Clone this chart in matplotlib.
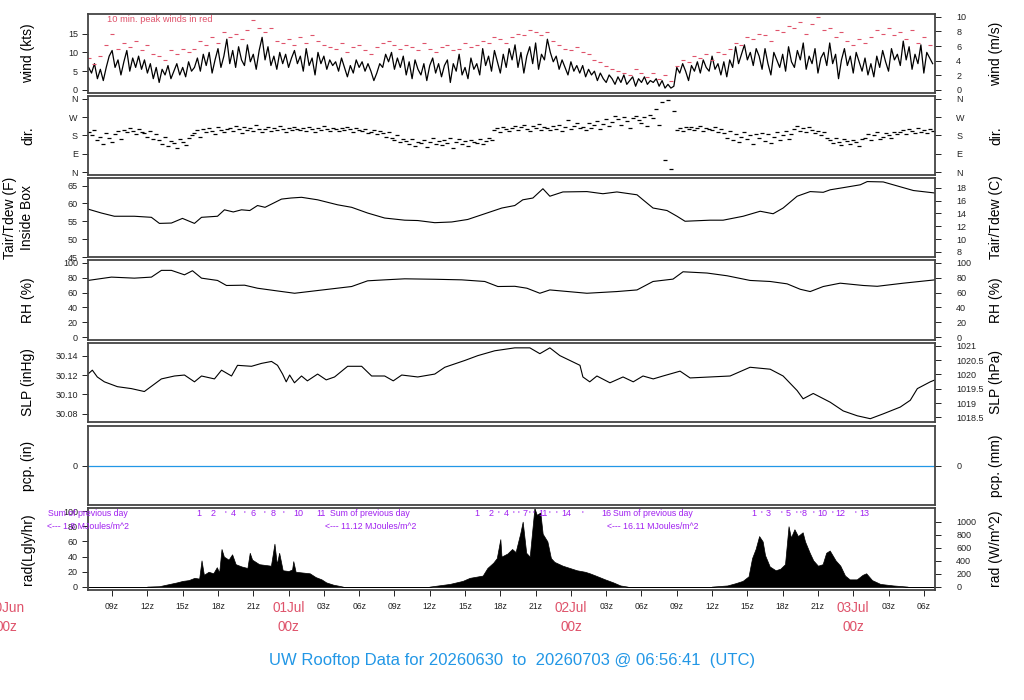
import numpy as np
import matplotlib
matplotlib.use("Agg")
import matplotlib.pyplot as plt
import matplotlib.transforms as mtransforms

plt.rcParams['font.family'] = ['Liberation Sans', 'DejaVu Sans']

RED = '#DF536B'
BLUE = '#2297E6'
PURPLE = '#A020F0'

# time axis in hours since 2026-06-30 00z
T_START = 6.95
T_END = 78.95

# sustained wind (kts), one reading every 15 min from 07z 30Jun
wind_t0 = 7.0
wind_kts = [
    6.0, 4.5, 7.0, 3.0, 5.5, 2.5, 6.0, 9.0, 10.5, 6.0, 8.0, 4.0,
    7.5, 10.5, 5.0, 8.5, 6.0, 9.0, 5.5, 8.0, 4.5, 7.0, 3.0, 6.0,
    2.0, 5.5, 4.0, 6.5, 3.0, 5.0, 7.0, 4.0, 6.0, 3.5, 7.5, 5.0,
    6.0, 8.5, 5.0, 9.5, 6.5, 10.0, 4.5, 8.0, 11.0, 6.0, 9.0, 13.5,
    7.0, 10.5, 6.0, 11.5, 8.0, 6.5, 12.0, 7.5, 9.5, 5.5, 10.5, 14.0,
    8.0, 11.5, 6.5, 9.0, 5.5, 10.0, 7.0, 9.5, 6.0, 8.5, 10.5, 7.0,
    9.0, 5.0, 11.0, 6.5, 8.5, 4.0, 10.0, 7.0, 9.0, 5.5, 8.0, 6.5,
    7.5, 5.0, 8.5, 6.0, 3.5, 6.5, 4.5, 8.0, 6.0, 7.5, 5.0, 7.0,
    5.0, 2.5, 4.5, 7.0, 6.0, 9.5, 7.5, 10.0, 5.5, 8.5, 6.0, 9.0,
    4.0, 7.5, 3.0, 8.0, 5.5, 4.0, 7.0, 2.5, 6.5, 8.5, 4.5, 7.0,
    3.5, 6.5, 8.0, 2.0, 7.0, 5.0, 9.5, 4.0, 6.0, 3.0, 8.5, 5.5,
    7.0, 4.0, 11.0, 6.5, 9.0, 5.0, 10.5, 7.5, 4.5, 9.5, 6.0, 11.0,
    8.0, 12.0, 6.0, 10.0, 4.5, 9.0, 11.5, 7.0, 12.5, 5.5, 9.5, 8.0,
    13.5, 10.0, 7.5, 9.0, 5.5, 8.0, 6.0, 4.0, 7.5, 5.0, 6.5, 4.5,
    6.5, 3.5, 5.5, 4.0, 5.0, 2.5, 4.5, 3.0, 2.0, 4.0, 3.0, 1.5,
    3.5, 2.0, 4.0, 1.5, 2.5, 3.5, 1.0, 3.0, 2.0, 3.5, 1.5, 2.5,
    2.0, 3.0, 1.0, 2.5, 0.5, 1.5, 0.5, 1.0, 6.0, 4.5, 7.0, 5.0,
    2.5, 6.5, 5.0, 7.5, 4.5, 8.0, 6.0, 5.0, 9.0, 5.5, 7.0, 4.0,
    7.5, 3.5, 8.0, 6.0, 11.5, 7.0, 9.5, 12.0, 8.0, 10.0, 6.5, 11.0,
    9.0, 5.5, 11.0, 7.0, 4.0, 10.0, 8.0, 6.0, 9.5, 5.0, 11.5, 7.5,
    6.0, 10.5, 8.0, 12.5, 5.5, 9.0, 7.0, 11.0, 4.5, 8.5, 10.0, 6.5,
    12.5, 7.0, 9.5, 3.0, 8.0, 11.0, 6.5, 9.0, 4.5, 10.0, 7.5, 5.0,
    8.5, 4.0, 7.0, 3.5, 9.0, 6.0, 10.5, 7.5, 5.0, 11.0, 8.0, 9.5,
    6.5, 13.0, 8.0, 11.5, 5.5, 9.5, 7.0, 12.0, 4.5, 10.0, 8.5, 7.0,
]

# 10 min peak winds (kts), shown every 30 min
gust_t0 = 7.0
gust_kts = [
    8.5, 7.0, 9.0, 12.0, 15.0, 11.0,
    12.5, 11.5, 13.0, 10.5, 12.0, 9.5,
    9.0, 8.0, 10.5, 9.5, 11.0, 10.0,
    11.0, 13.0, 12.0, 14.0, 12.5, 15.5,
    14.0, 15.0, 13.5, 16.0, 18.5, 16.5,
    15.5, 16.5, 13.0, 12.5, 13.5, 12.0,
    14.0, 12.5, 14.5, 13.0, 12.0, 11.5,
    11.0, 12.5, 10.0, 11.5, 12.0, 10.5,
    9.5, 11.5, 12.5, 13.0, 12.0, 11.0,
    12.0, 11.5, 10.5, 12.5, 11.0, 10.0,
    11.5, 12.0, 10.5, 11.0, 12.5, 11.5,
    12.0, 13.0, 12.5, 14.0, 13.5, 12.5,
    14.0, 15.0, 14.5, 16.0, 15.5, 14.5,
    15.5, 13.0, 12.0, 11.0, 10.5, 11.5,
    10.0, 9.5, 8.0, 7.5, 6.5, 5.5,
    5.0, 4.5, 4.0, 5.5, 4.5, 3.5,
    4.5, 3.0, 4.0, 2.5, 6.5, 8.0,
    7.5, 9.0, 8.5, 9.5, 8.0, 10.0,
    9.5, 11.0, 12.5, 12.0, 14.0, 13.5,
    15.0, 14.5, 13.0, 16.0, 15.5, 17.0,
    16.5, 18.0, 15.0, 17.5, 19.5, 16.0,
    16.5, 14.0, 15.5, 13.0, 12.0, 13.5,
    12.5, 14.0, 16.0, 15.0, 16.5, 14.5,
    15.5, 13.5, 16.0, 12.5, 14.0, 12.0,
]

# wind direction (deg), same 15 min clock as wind
dir_deg = [
    195, 180, 205, 160, 175, 140, 190, 170, 150, 185, 200, 165,
    205, 195, 215, 200, 185, 210, 195, 190, 175, 200, 165, 185,
    160, 140, 175, 130, 155, 145, 120, 165, 150, 135, 170, 180,
    190, 205, 175, 210, 195, 215, 200, 185, 220, 205, 195, 210,
    215, 200, 225, 210, 190, 220, 205, 215, 200, 230, 210, 195,
    210, 220, 200, 215, 205, 225, 210, 195, 215, 205, 220, 210,
    205, 215, 200, 220, 210, 195, 215, 205, 225, 210, 200, 215,
    210, 200, 215, 205, 220, 210, 195, 215, 205, 200, 210, 190,
    195, 205, 185, 200, 190, 175, 195, 170, 160, 180, 150, 165,
    155, 140, 165, 130, 150, 145, 160, 125, 150, 170, 140, 155,
    135, 160, 145, 170, 120, 150, 165, 140, 155, 130, 160, 150,
    145, 165, 140, 155, 170, 160, 205, 215, 195, 220, 210, 200,
    215, 225, 205, 220, 230, 210, 200, 225, 215, 235, 205, 220,
    215, 205, 225, 210, 230, 200, 220, 255, 210, 225, 240, 215,
    220, 205, 240, 215, 230, 250, 210, 235, 260, 225, 245, 275,
    260, 230, 270, 250, 215, 265, 275, 255, 240, 270, 225, 280,
    265, 310, 230, 345, 60, 355, 15, 300, 205, 215, 200, 220,
    210, 220, 205, 215, 225, 200, 215, 210, 205, 220, 195, 210,
    190, 170, 200, 160, 185, 150, 175, 195, 165, 180, 140, 185,
    170, 190, 155, 185, 145, 175, 195, 160, 180, 200, 165, 185,
    210, 225, 200, 215, 195, 220, 205, 190, 200, 180, 195, 170,
    160, 145, 170, 150, 135, 165, 155, 140, 160, 150, 130, 165,
    170, 185, 160, 180, 195, 165, 175, 190, 180, 170, 195, 185,
    195, 205, 185, 210, 200, 190, 215, 195, 205, 190, 210, 200,
]

temp_hours = [6.95, 8.09, 9.19, 10.89, 12.34, 13.02, 14.04, 14.98, 16.0, 16.6,
              17.96, 18.55, 19.3, 20.0, 20.7, 21.36, 22.0, 22.55, 23.4, 24.2,
              25.1, 26.47, 28.17, 29.36, 30.72, 32.17, 33.87, 34.98, 36.43, 37.87,
              39.23, 40.68, 42.13, 43.23, 43.91, 44.77, 45.62, 46.21, 47.32, 49.36,
              50.72, 51.91, 53.62, 54.13, 54.98, 56.17, 57.02, 57.7, 59.83, 60.94,
              62.64, 64.09, 65.19, 66.04, 67.23, 68.34, 69.45, 70.04, 71.15, 72.6,
              73.19, 74.55, 75.4, 77.11, 78.95]
temp_f = [58.4, 57.3, 56.4, 56.4, 56.1, 54.4, 54.5, 55.8, 54.4, 56.1,
          56.4, 58.2, 57.6, 58.2, 58.0, 59.4, 58.9, 59.8, 61.2, 61.5,
          61.7, 61.0, 59.6, 58.9, 57.3, 55.9, 55.3, 55.2, 54.6, 54.8,
          55.5, 57.1, 58.7, 59.4, 61.0, 61.5, 64.1, 62.0, 63.2, 63.3,
          62.7, 63.2, 62.4, 61.0, 58.7, 58.0, 56.4, 55.0, 55.3, 55.3,
          56.4, 57.8, 57.1, 58.7, 62.0, 63.3, 63.1, 63.8, 64.4, 65.2,
          66.1, 66.0, 65.2, 63.6, 62.9]

rh_hours = [6.95, 8.94, 10.89, 12.34, 13.19, 14.04, 15.15, 15.83, 16.6, 17.96,
            18.72, 20.26, 21.36, 23.06, 24.51, 26.47, 29.36, 30.72, 32.17, 33.87,
            36.43, 38.72, 40.68, 41.79, 43.23, 44.26, 45.36, 46.21, 49.36, 51.91,
            53.62, 54.98, 56.68, 57.53, 59.57, 61.28, 63.23, 64.94, 66.38, 67.49,
            68.34, 69.45, 70.89, 72.85, 74.04, 76.26, 78.95]
rh_pct = [76.4, 80.9, 79.5, 80.9, 90.0, 90.0, 84.0, 89.5, 79.5, 76.4,
          69.6, 70.0, 65.9, 62.2, 59.1, 62.8, 68.2, 75.9, 77.2, 78.6,
          78.0, 77.2, 75.0, 68.2, 68.5, 65.9, 59.1, 63.6, 59.1, 61.4,
          63.6, 75.0, 78.2, 88.1, 86.4, 82.7, 76.4, 75.0, 71.8, 64.5,
          61.4, 68.2, 72.7, 69.6, 68.5, 72.7, 77.2]

slp_hours = [6.95, 7.32, 7.74, 8.34, 9.45, 10.64, 11.74, 13.19, 14.3, 15.15,
             16.0, 16.6, 17.7, 18.3, 19.15, 19.66, 20.85, 21.7, 22.55, 23.06,
             23.49, 23.8, 24.09, 24.5, 25.1, 25.6, 26.47, 27.2, 27.91, 29.02,
             30.21, 31.06, 32.17, 32.9, 33.62, 34.98, 36.43, 37.28, 38.98, 40.09,
             41.53, 43.23, 44.51, 45.36, 46.21, 47.06, 48.77, 49.02, 49.6, 50.21,
             51.32, 52.43, 53.3, 54.13, 55.0, 55.83, 57.28, 58.13, 59.83, 61.53,
             63.23, 64.94, 66.04, 67.23, 67.74, 68.6, 70.04, 71.15, 72.34, 73.45,
             74.55, 76.0, 76.85, 77.45, 78.55, 78.95]
slp_inhg = [30.121, 30.125, 30.118, 30.113, 30.108, 30.106, 30.103, 30.116, 30.119, 30.120,
            30.113, 30.119, 30.116, 30.125, 30.119, 30.130, 30.129, 30.132, 30.134, 30.130,
            30.121, 30.113, 30.120, 30.112, 30.119, 30.114, 30.121, 30.115, 30.118, 30.129,
            30.129, 30.119, 30.119, 30.114, 30.120, 30.118, 30.121, 30.128, 30.135, 30.140,
            30.145, 30.148, 30.148, 30.142, 30.148, 30.140, 30.130, 30.118, 30.113, 30.119,
            30.112, 30.118, 30.113, 30.119, 30.116, 30.119, 30.124, 30.117, 30.118, 30.119,
            30.128, 30.126, 30.119, 30.104, 30.0955, 30.101, 30.092, 30.083, 30.078, 30.075,
            30.080, 30.087, 30.094, 30.106, 30.113, 30.115]

pcp_hours = [T_START, T_END]
pcp_in = [0.0, 0.0]

rad_hours = [6.95, 11.9, 12.0, 13.0, 13.9, 14.5, 15.0, 15.5, 16.0, 16.4, 16.6, 16.8,
             17.2, 17.6, 17.9, 18.1, 18.3, 18.5, 18.9, 19.2, 19.5, 20.0, 20.5, 20.7,
             20.9, 21.2, 21.5, 22.0, 22.5, 22.8, 23.0, 23.2, 23.5, 24.0, 24.3, 24.4,
             24.6, 25.2, 25.8, 26.3, 26.8, 27.2, 27.8, 28.3, 28.6, 28.7,
             35.9, 36.0, 37.7, 38.8, 39.4, 40.5, 40.9, 41.4, 41.7, 42.0, 42.1, 42.6,
             43.0, 43.3, 43.7, 43.9, 44.2, 44.5, 44.9, 45.1, 45.4, 45.6, 46.0, 46.3,
             46.6, 47.3, 47.9, 48.5, 49.2, 49.6, 50.1, 50.9, 51.6, 52.2, 52.8, 52.9,
             59.9, 60.0, 61.3, 62.0, 62.6, 63.1, 63.4, 63.7, 64.0, 64.3, 64.5, 64.9,
             65.4, 65.8, 66.2, 66.5, 66.7, 67.0, 67.3, 67.7, 67.9, 68.3, 68.6, 69.0,
             69.4, 69.7, 70.0, 70.5, 70.9, 71.3, 71.7, 72.3, 72.8, 73.1, 73.6, 74.3,
             75.4, 76.6, 76.7, 78.95]
rad_ly = [0, 0, 0.5, 1, 4, 6, 8, 9, 12, 11, 35, 16,
          20, 18, 26, 19, 50, 40, 36, 43, 30, 27, 25, 45,
          36, 33, 30, 29, 28, 57, 30, 45, 22, 21, 23, 34,
          20, 19, 18, 13, 10, 6, 3, 1.5, 0.5, 0,
          0, 0.5, 4, 8, 12, 15, 25, 32, 38, 63, 40, 44,
          50, 46, 71, 86, 45, 40, 104, 95, 98, 70, 60, 38,
          33, 28, 25, 22, 20, 18, 15, 10, 6, 2, 0.5, 0,
          0, 0.5, 2, 5, 8, 14, 38, 50, 67, 60, 42, 27,
          22, 24, 30, 80, 65, 76, 67, 72, 60, 45, 35, 28,
          30, 45, 48, 35, 28, 15, 10, 10, 16, 18, 9, 4,
          2, 0.5, 0, 0]

# cumulative MJ/m^2 markers drawn over the radiation panel
mark_hours = [16.37, 17.62, 18.64, 19.26, 20.26, 21.02, 21.96, 22.66, 23.52, 24.79, 26.78,
              40.03, 41.22, 41.87, 42.53, 43.15, 43.52, 44.06, 44.51, 44.79, 45.64, 46.21,
              46.78, 47.63, 48.99, 50.98,
              63.52, 64.23, 64.79, 65.93, 66.49, 67.2, 67.49, 67.83, 68.62, 69.34, 70.19,
              70.89, 72.17, 72.96]
mark_labels = ["1", "2", "'", "4", "'", "6", "'", "8", "'", "10", "11",
               "1", "2", "'", "4", "'", "'", "7", "'", "'", "11", "'",
               "'", "14", "'", "16",
               "1", "'", "3", "'", "5", "'", "'", "8", "'", "10", "'",
               "12", "'", "13"]
sum_hours = [6.95, 30.95, 54.95]
sum_mj = ["1.8", "11.12", "16.11"]

day_hours = [0, 24, 48, 72]
day_names = ["30Jun", "01Jul", "02Jul", "03Jul"]


def px_box(top, bottom):
    return [88 / 1024, 1 - bottom / 700, (935 - 88) / 1024, (bottom - top) / 700]


def style_panel(ax, ylim, ticks, labels=None):
    ax.set_xlim(T_START, T_END)
    ax.set_ylim(*ylim)
    ax.set_yticks(ticks)
    if labels is not None:
        ax.set_yticklabels(labels)
    ax.tick_params(axis='y', direction='out', length=4.3, width=0.7, pad=3,
                   labelsize=6.5, colors='#222222')
    ax.tick_params(axis='x', bottom=False, labelbottom=False)
    for s in ax.spines.values():
        s.set_color('#444444')
        s.set_linewidth(1.3)


def right_axis(ax, fwd, inv, ticks, labels=None):
    sec = ax.secondary_yaxis('right', functions=(fwd, inv))
    sec.set_yticks(ticks)
    if labels is not None:
        sec.set_yticklabels(labels)
    sec.tick_params(direction='out', length=4.3, width=0.7, pad=11,
                    labelsize=6.5, colors='#222222')
    sec.spines['right'].set_visible(False)
    return sec


fig = plt.figure(figsize=(10.24, 7.0), dpi=100)

panels = [(14, 93), (96, 175), (178, 257), (260, 340), (343, 422), (426, 505), (508, 590)]
axes = [fig.add_axes(px_box(t, b)) for t, b in panels]
ax_w, ax_d, ax_t, ax_rh, ax_p, ax_pcp, ax_r = axes

wind_t = wind_t0 + 0.25 * np.arange(len(wind_kts))
gust_t = gust_t0 + 0.5 * np.arange(len(gust_kts))

# wind
ax_w.plot(wind_t, wind_kts, color='black', lw=0.9)
ax_w.plot(gust_t, gust_kts, ls='none', marker='_', ms=3.5, mew=0.8, color=RED)
style_panel(ax_w, (-0.8, 20.2), [0, 5, 10, 15])
right_axis(ax_w, lambda k: k * 0.514444, lambda m: m / 0.514444, [0, 2, 4, 6, 8, 10])
ax_w.text(107 / 1024, 1 - 19 / 700, '10 min. peak winds in red', transform=fig.transFigure,
          color=RED, fontsize=6.7, va='center', ha='left')

# direction
ax_d.plot(wind_t, dir_deg, ls='none', marker='_', ms=3, mew=0.9, color='black')
style_panel(ax_d, (-14.4, 374.4), [0, 90, 180, 270, 360], ['N', 'E', 'S', 'W', 'N'])
right_axis(ax_d, lambda d: d, lambda d: d, [0, 90, 180, 270, 360], ['N', 'E', 'S', 'W', 'N'])

# temperature
ax_t.plot(temp_hours, temp_f, color='black', lw=0.8)
style_panel(ax_t, (45.3, 67.1), [45, 50, 55, 60, 65])
right_axis(ax_t, lambda f: (f - 32) / 1.8, lambda c: c * 1.8 + 32, [8, 10, 12, 14, 16, 18])

# relative humidity
ax_rh.plot(rh_hours, rh_pct, color='black', lw=0.8)
style_panel(ax_rh, (-4, 104), [0, 20, 40, 60, 80, 100])
right_axis(ax_rh, lambda r: r, lambda r: r, [0, 20, 40, 60, 80, 100])

# pressure
ax_p.plot(slp_hours, slp_inhg, color='black', lw=0.8)
style_panel(ax_p, (30.0716, 30.153), [30.08, 30.10, 30.12, 30.14], ['30.08', '30.10', '30.12', '30.14'])
right_axis(ax_p, lambda p: p * 33.8639, lambda h: h / 33.8639,
           [1018.5, 1019, 1019.5, 1020, 1020.5, 1021],
           ['1018.5', '1019', '1019.5', '1020', '1020.5', '1021'])

# precipitation
ax_pcp.plot(pcp_hours, pcp_in, color=BLUE, lw=0.9)
style_panel(ax_pcp, (-1, 1), [0])
right_axis(ax_pcp, lambda i: i * 25.4, lambda m: m / 25.4, [0])

# radiation
ax_r.fill_between(rad_hours, 0, rad_ly, color='black', lw=0.5)
style_panel(ax_r, (-4, 104), [0, 20, 40, 60, 80, 100])
right_axis(ax_r, lambda v: v * 11.622, lambda w: w / 11.622, [0, 200, 400, 600, 800, 1000])
ax_r.set_clip_on(True)

trans_r = mtransforms.blended_transform_factory(ax_r.transData, ax_r.transAxes)
for h, lab in zip(mark_hours, mark_labels):
    ax_r.text(h, 0.927, lab, transform=trans_r, color=PURPLE, fontsize=6.5,
              ha='center', va='center')
for h, mj in zip(sum_hours, sum_mj):
    ax_r.text(h, 0.927, 'Sum of previous day', transform=trans_r, color=PURPLE,
              fontsize=6.3, ha='center', va='center', clip_on=False)
    ax_r.text(h, 0.78, '<--- ' + mj + ' MJoules/m^2', transform=trans_r, color=PURPLE,
              fontsize=6.3, ha='center', va='center', clip_on=False)

# bottom time axis
hour_ticks = list(range(9, 79, 3))
hour_labels = ['' if h % 24 == 0 else '%02dz' % (h % 24) for h in hour_ticks]
ax_r.set_xticks(hour_ticks)
ax_r.set_xticklabels(hour_labels)
ax_r.tick_params(axis='x', bottom=True, labelbottom=True, direction='out', length=4.3,
                 width=0.7, pad=4, labelsize=6.2, colors='#222222')

trans_day = mtransforms.blended_transform_factory(ax_r.transData, fig.transFigure)
for h, name in zip(day_hours, day_names):
    fig.text(0, 0, '', transform=trans_day)
    ax_r.text(h, 1 - 608 / 700, name, transform=trans_day, color=RED, fontsize=9.8,
              ha='center', va='center', clip_on=False)
    ax_r.text(h, 1 - 627 / 700, '00z', transform=trans_day, color=RED, fontsize=9.8,
              ha='center', va='center', clip_on=False)

# axis titles
left_labels = ['wind (kts)', 'dir.', None, 'RH (%)', 'SLP (inHg)', 'pcp. (in)', 'rad(Lgly/hr)']
right_labels = ['wind (m/s)', 'dir.', 'Tair/Tdew (C)', 'RH (%)', 'SLP (hPa)', 'pcp. (mm)', 'rad (W/m^2)']
for (t, b), ll, rl in zip(panels, left_labels, right_labels):
    yc = 1 - (t + b) / 2 / 700
    if ll is not None:
        fig.text(28 / 1024, yc, ll, rotation=90, ha='center', va='center', fontsize=10)
    fig.text(996 / 1024, yc, rl, rotation=90, ha='center', va='center', fontsize=10)
yc = 1 - (178 + 257) / 2 / 700
fig.text(10 / 1024, yc, 'Tair/Tdew (F)', rotation=90, ha='center', va='center', fontsize=10)
fig.text(27 / 1024, yc, 'Inside Box', rotation=90, ha='center', va='center', fontsize=10)

fig.text(0.5, 1 - 660 / 700, 'UW Rooftop Data for 20260630  to  20260703 @ 06:56:41  (UTC)',
         ha='center', va='center', color=BLUE, fontsize=12)

fig.savefig('out.png', dpi=100)
